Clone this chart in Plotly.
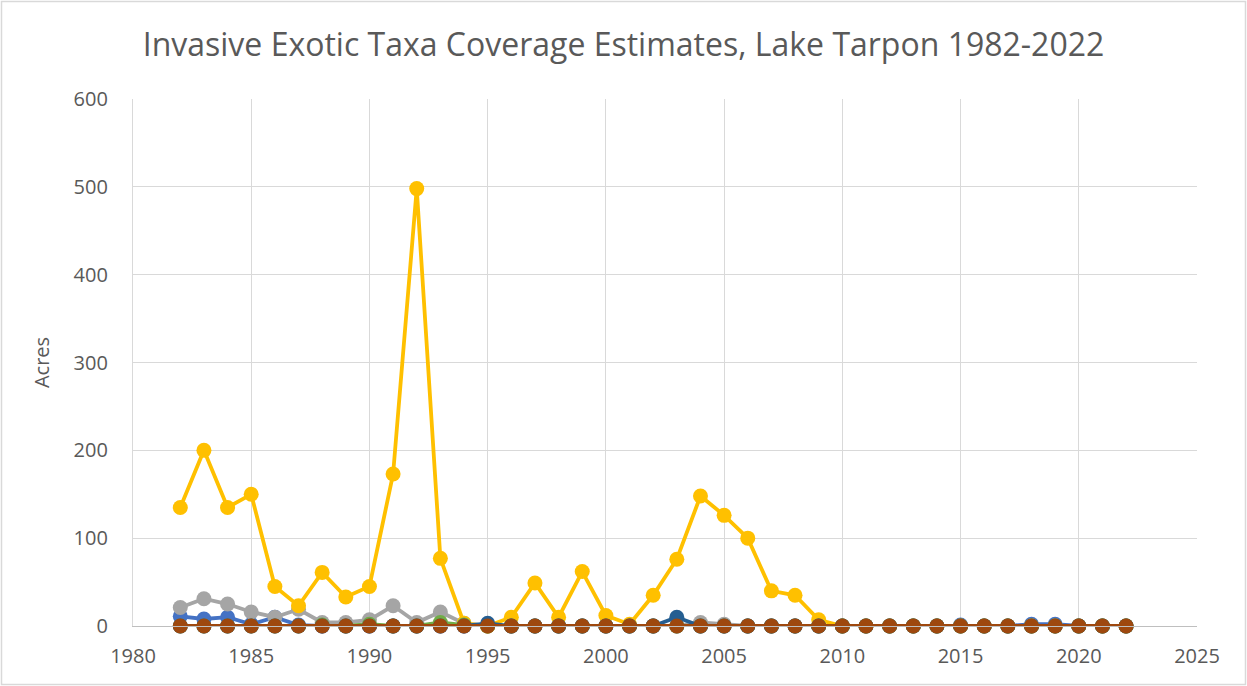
import plotly.graph_objects as go

years = list(range(1982, 2023))

blue = [11, 8, 10, 2, 10, 1, 0, 0, 0, 0, 0, 0, 0, 0, 0, 0, 0, 0, 0, 0, 0,
        0, 0, 0, 0, 0, 0, 0, 0, 0, 0, 0, 0, 1, 0, 0, 2, 2, 0, 0, 0]
gray = [21, 31, 25, 16, 10, 19, 4, 4, 7, 23, 4, 16, 3, 0, 0, 0, 0, 0, 0, 0, 0,
        0, 4, 2, 0, 0, 0, 0, 0, 0, 0, 0, 0, 0, 0, 0, 0, 0, 0, 0, 0]
yellow = [135, 200, 135, 150, 45, 23, 61, 33, 45, 173, 498, 77, 3, 0, 10, 49, 10, 62, 12, 2, 35,
          76, 148, 126, 100, 40, 35, 7, 0, 0, 0, 0, 0, 0, 0, 0, 0, 0, 0, 0, 0]
green = [0, 0, 0, 0, 0, 0, 1, 0, 2, 0, 0, 4, 1, 0, 0, 0, 0, 0, 0, 0, 0,
         0, 0, 0, 0, 0, 0, 0, 0, 0, 0, 0, 0, 0, 0, 0, 0, 0, 0, 0, 0]
darkblue = [0, 0, 0, 0, 0, 0, 0, 0, 0, 0, 0, 0, 0, 3, 0, 0, 0, 0, 0, 0, 0,
            10, 0, 0, 0, 0, 0, 0, 0, 0, 0, 0, 0, 0, 0, 0, 0, 0, 0, 0, 0]
brown = [0] * 41

series = [
    ("Series 1", blue, "#4472C4"),
    ("Series 3", gray, "#A5A5A5"),
    ("Series 4", yellow, "#FFC000"),
    ("Series 6", green, "#70AD47"),
    ("Series 11", darkblue, "#255E91"),
    ("Series 8", brown, "#9E480E"),
]

fig = go.Figure()
for name, vals, col in series:
    fig.add_trace(go.Scatter(
        x=years, y=vals, name=name, mode="lines+markers",
        line=dict(color=col, width=3.8),
        marker=dict(color=col, size=15),
        showlegend=False, cliponaxis=False,
    ))

W, H = 1247, 686
L, R, T, B = 133, 50, 99, 60
pw, ph = W - L - R, H - T - B
txt = "#595959"

fig.update_layout(
    width=W, height=H,
    margin=dict(l=L, r=R, t=T, b=B),
    paper_bgcolor="white", plot_bgcolor="white",
    font=dict(family="Open Sans, Lato, sans-serif", color=txt, size=20),
    title=dict(
        text="Invasive Exotic Taxa Coverage Estimates, Lake Tarpon 1982-2022",
        x=0.5, xanchor="center", y=1 - 45 / H, yanchor="middle",
        font=dict(size=32, color=txt),
    ),
    xaxis=dict(
        range=[1980, 2025], tick0=1980, dtick=5, tickmode="linear",
        showgrid=True, gridcolor="#D9D9D9", gridwidth=1.3,
        showline=True, linecolor="#BFBFBF", linewidth=1.3,
        zeroline=False, ticks="", ticklen=0, ticklabelstandoff=12,
        tickfont=dict(size=20, color=txt),
    ),
    yaxis=dict(
        range=[0, 600], tick0=0, dtick=100, tickmode="linear",
        showgrid=True, gridcolor="#D9D9D9", gridwidth=1.3,
        showline=True, linecolor="#D9D9D9", linewidth=1.3,
        zeroline=False, ticks="", ticklen=0, ticklabelstandoff=20,
        title=dict(text="Acres", font=dict(size=20, color=txt), standoff=18),
        tickfont=dict(size=20, color=txt),
    ),
    shapes=[
        dict(type="rect", xref="paper", yref="paper",
             x0=(1.5 - L) / pw, x1=(W - 1.5 - L) / pw,
             y0=-(B - 1.5) / ph, y1=(ph + T - 1.5) / ph,
             line=dict(color="#D9D9D9", width=1.5), fillcolor="rgba(0,0,0,0)",
             layer="below"),
    ],
)

fig.write_html(
    "out.html",
    config={"displayModeBar": False},
    post_script="document.body.style.margin='0px';document.body.style.overflow='hidden';",
)
